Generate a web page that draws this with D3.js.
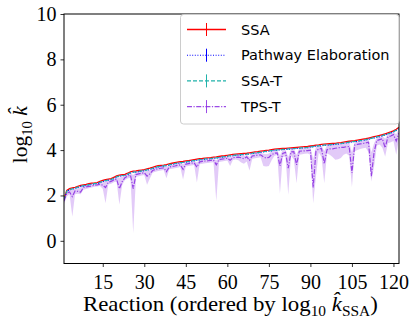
<!DOCTYPE html>
<html><head><meta charset="utf-8">
<script src="https://cdn.jsdelivr.net/npm/d3@7"></script>
<style>body{margin:0;background:#fff}svg{display:block}</style>
</head><body>
<script>
const ssa = [1.85,2.22,2.30,2.33,2.36,2.40,2.44,2.47,2.49,2.52,
2.54,2.55,2.57,2.62,2.66,2.70,2.72,2.74,2.80,2.86,
2.90,2.92,2.93,2.98,3.04,3.07,3.08,3.10,3.12,3.14,
3.17,3.20,3.24,3.28,3.31,3.33,3.34,3.36,3.39,3.42,
3.45,3.47,3.49,3.50,3.52,3.54,3.56,3.58,3.60,3.62,
3.63,3.65,3.66,3.67,3.69,3.70,3.72,3.74,3.75,3.77,
3.79,3.81,3.82,3.83,3.84,3.85,3.86,3.88,3.90,3.92,
3.93,3.95,3.97,3.99,4.00,4.02,4.04,4.05,4.06,4.07,
4.08,4.09,4.10,4.11,4.12,4.13,4.14,4.15,4.16,4.18,
4.20,4.22,4.23,4.25,4.26,4.27,4.28,4.29,4.30,4.32,
4.33,4.35,4.37,4.39,4.41,4.42,4.44,4.46,4.48,4.50,
4.53,4.56,4.59,4.62,4.65,4.68,4.72,4.76,4.80,4.85,
4.92,5.00];
const pathway = [1.80,2.18,2.24,2.28,2.31,2.35,2.40,2.41,2.44,2.47,
2.49,2.51,2.52,2.56,2.61,2.64,2.67,2.70,2.74,2.80,
2.85,2.86,2.89,2.92,2.98,3.02,3.03,3.05,3.06,3.09,
3.11,3.15,3.18,3.22,3.26,3.28,3.29,3.31,3.33,3.37,
3.39,3.42,3.43,3.45,3.47,3.48,3.51,3.52,3.55,3.57,
3.58,3.59,3.61,3.62,3.63,3.65,3.66,3.69,3.70,3.71,
3.74,3.75,3.77,3.78,3.78,3.80,3.81,3.82,3.85,3.86,
3.88,3.89,3.92,3.93,3.95,3.96,3.99,3.99,4.01,4.02,
4.03,4.03,4.05,4.06,4.07,4.07,4.09,4.10,4.10,4.13,
4.14,4.17,4.18,4.19,4.21,4.22,4.22,4.24,4.25,4.26,
4.28,4.29,4.32,4.33,4.36,4.37,4.38,4.41,4.42,4.45,
4.47,4.51,4.53,4.57,4.59,4.63,4.66,4.71,4.74,4.80,
4.86,4.95];
const ssaT = [1.82,2.19,2.26,2.29,2.32,2.37,2.40,2.43,2.45,2.48,
2.50,2.52,2.53,2.58,2.62,2.66,2.68,2.70,2.76,2.82,
2.86,2.88,2.89,2.94,3.00,3.03,3.04,3.06,3.08,3.10,
3.13,3.16,3.20,3.24,3.27,3.29,3.30,3.32,3.35,3.38,
3.41,3.43,3.45,3.46,3.48,3.50,3.52,3.54,3.56,3.58,
3.59,3.61,3.62,3.63,3.65,3.66,3.68,3.70,3.71,3.73,
3.75,3.77,3.78,3.79,3.80,3.81,3.82,3.84,3.86,3.88,
3.89,3.91,3.93,3.95,3.96,3.98,4.00,4.01,4.02,4.03,
4.04,4.05,4.06,4.07,4.08,4.09,4.10,4.11,4.12,4.14,
4.16,4.18,4.19,4.21,4.22,4.23,4.24,4.25,4.26,4.28,
4.29,4.31,4.33,4.35,4.37,4.38,4.40,4.42,4.44,4.46,
4.49,4.52,4.55,4.58,4.61,4.64,4.68,4.72,4.76,4.81,
4.88,4.96];
const tpsT = [1.75,2.10,2.15,1.95,2.20,2.18,2.15,2.35,2.38,2.40,
2.42,2.45,2.47,2.50,2.45,2.35,2.58,2.62,2.68,2.72,
2.30,2.60,2.78,2.85,2.90,2.30,2.92,2.95,2.98,3.00,
2.85,2.95,3.10,3.15,3.18,3.20,3.22,3.05,3.25,3.28,
3.30,3.33,3.35,3.15,3.38,3.40,3.42,3.44,3.25,3.48,
3.50,3.52,3.53,3.55,3.56,3.35,3.58,3.60,3.62,3.64,
3.55,3.66,3.68,3.69,3.66,3.62,3.70,3.55,3.74,3.76,
3.78,3.79,3.70,3.65,3.68,3.80,3.86,3.88,3.30,3.85,
3.90,3.20,3.92,3.93,3.35,3.95,3.96,3.97,3.98,4.00,
2.35,3.95,4.05,4.07,3.40,4.02,4.05,4.05,4.08,4.10,
4.12,4.12,4.15,4.16,3.00,4.22,4.25,4.27,4.29,4.32,
4.35,2.85,3.90,4.42,4.46,4.50,4.10,4.58,4.62,4.68,
4.40,4.75];
const tpsTLow = [1.62,1.95,2.05,1.07,2.05,2.08,2.05,2.25,2.28,2.32,
2.35,2.38,2.40,2.42,2.30,1.66,2.48,2.52,2.58,2.62,
1.60,2.45,2.68,2.75,2.78,0.34,2.82,2.85,2.88,2.90,
2.47,2.75,3.00,3.05,3.08,3.10,3.12,2.76,3.15,3.18,
3.20,3.22,3.25,2.70,3.28,3.30,3.32,3.34,2.57,3.38,
3.40,3.42,3.43,3.45,3.46,1.74,3.48,3.50,3.52,3.54,
3.30,3.56,3.58,3.55,3.45,3.40,3.50,3.10,3.62,3.64,
3.66,3.68,3.30,3.28,3.30,3.55,3.75,3.78,2.07,3.70,
3.72,2.03,3.75,3.60,2.54,3.80,3.82,3.84,3.85,3.80,
1.66,2.84,3.90,3.70,2.54,3.85,3.80,3.70,3.57,3.60,
3.65,3.80,3.85,3.75,2.37,3.95,4.00,4.05,4.08,4.10,
3.90,2.62,3.28,4.20,4.25,4.10,3.72,4.30,4.35,4.40,
3.79,4.50];
const tpsTHigh = [1.80,2.16,2.24,2.25,2.30,2.33,2.36,2.42,2.44,2.46,
2.48,2.50,2.52,2.56,2.58,2.62,2.66,2.69,2.74,2.79,
2.78,2.84,2.88,2.92,2.97,2.90,3.02,3.04,3.06,3.08,
3.08,3.12,3.18,3.22,3.25,3.27,3.28,3.26,3.33,3.36,
3.39,3.41,3.43,3.38,3.46,3.48,3.50,3.52,3.45,3.56,
3.57,3.59,3.60,3.61,3.63,3.55,3.66,3.68,3.69,3.71,
3.68,3.75,3.76,3.77,3.76,3.74,3.79,3.70,3.84,3.86,
3.87,3.89,3.84,3.82,3.85,3.95,3.98,3.99,3.75,4.00,
4.02,3.70,4.04,4.05,3.80,4.07,4.08,4.09,4.10,4.12,
3.60,4.14,4.17,4.19,3.95,4.21,4.22,4.23,4.24,4.26,
4.27,4.29,4.31,4.33,3.90,4.36,4.38,4.40,4.42,4.44,
4.47,3.90,4.30,4.56,4.59,4.62,4.50,4.70,4.74,4.79,
4.70,4.92];
const xTicks = [15,30,45,60,75,90,105,120];
const yTicks = [0,2,4,6,8,10];
const legendLabels = ["SSA","Pathway Elaboration","SSA-T","TPS-T"];

const W=416,H=330;
const L=64,R=399,T=14,B=263.5;
const svg=d3.select("body").append("svg").attr("width",W).attr("height",H);
const x=d3.scaleLinear().domain([1,ssa.length]).range([L,R]);
const y=d3.scaleLinear().domain([-1,10]).range([B,T]);
const idx=d3.range(ssa.length);

svg.append("clipPath").attr("id","clip").append("rect").attr("x",L).attr("y",T).attr("width",R-L).attr("height",B-T);
const plot=svg.append("g").attr("clip-path","url(#clip)");

const purple="#8a2be2";
plot.append("path").datum(idx)
  .attr("d",d3.area().x(i=>x(i+1)).y0(i=>y(tpsTLow[i])).y1(i=>y(tpsTHigh[i])))
  .attr("fill",purple).attr("fill-opacity",0.25).attr("stroke","none");

const series=[
  {v:ssa,c:"#ff0000",dash:null,w:1.3,op:1},
  {v:pathway,c:"#0000ff",dash:"1,1.6",w:1.1,op:1},
  {v:ssaT,c:"#20b2aa",dash:"4,2",w:1.2,op:1},
  {v:tpsT,c:purple,dash:"5,1.5,1.2,1.5",w:1.2,op:0.85}
];
series.forEach(s=>{
  const p=plot.append("path").datum(idx)
    .attr("d",d3.line().x(i=>x(i+1)).y(i=>y(s.v[i])))
    .attr("fill","none").attr("stroke",s.c).attr("stroke-width",s.w).attr("stroke-opacity",s.op);
  if(s.dash) p.attr("stroke-dasharray",s.dash);
});

// axes
const serif="'Liberation Serif','Times New Roman',serif";
const xa=svg.append("g").attr("transform",`translate(0,${B})`)
  .call(d3.axisBottom(x).tickValues(xTicks).tickSize(3.5).tickPadding(6).tickFormat(d3.format("d")));
const ya=svg.append("g").attr("transform",`translate(${L},0)`)
  .call(d3.axisLeft(y).tickValues(yTicks).tickSize(3.5).tickPadding(4).tickFormat(d3.format("d")));
[xa,ya].forEach(a=>{
  a.select(".domain").remove();
  a.selectAll(".tick line").attr("stroke","#000").attr("stroke-width",0.8);
  a.selectAll(".tick text").attr("font-family",serif).attr("font-size",20).attr("fill","#000");
});
xa.selectAll(".tick text").attr("dy","0.8em");
svg.append("rect").attr("x",L).attr("y",T).attr("width",R-L).attr("height",B-T)
  .attr("fill","none").attr("stroke","#000").attr("stroke-width",1);

// x label
const xl=svg.append("text").attr("x",83).attr("y",311.5).attr("text-anchor","start")
  .attr("font-family",serif).attr("font-size",21.5).attr("fill","#000");
xl.append("tspan").text("Reaction (ordered by log");
xl.append("tspan").attr("font-size",14.5).attr("dy",5).text("10");
xl.append("tspan").attr("dy",-5).text(" ");
xl.append("tspan").attr("font-style","italic").text("k\u0302");
xl.append("tspan").attr("font-size",14.5).attr("dy",5).text("SSA");
xl.append("tspan").attr("dy",-5).text(")");
// fit label span to the reference extent (83 → 378)
const bb=xl.node().getBBox();
if(bb.width>0){ const sc=295/bb.width; if(Math.abs(sc-1)>0.02){ xl.attr("transform",`translate(83,0) scale(${sc},1) translate(-83,0)`);} }

// y label
const yl=svg.append("text").attr("transform",`translate(27,${(T+B)/2-4}) rotate(-90)`).attr("text-anchor","middle")
  .attr("font-family",serif).attr("font-size",21.5).attr("fill","#000");
yl.append("tspan").text("log");
yl.append("tspan").attr("font-size",14.5).attr("dy",5).text("10");
yl.append("tspan").attr("dy",-5).text(" ");
yl.append("tspan").attr("font-style","italic").text("k\u0302");

// legend
const lg=svg.append("g");
lg.append("rect").attr("x",180.5).attr("y",14.5).attr("width",218.5).attr("height",109.5).attr("rx",3)
  .attr("fill","#fff").attr("fill-opacity",0.85).attr("stroke","#cccccc").attr("stroke-width",1);
series.forEach((s,k)=>{
  const yy=29.5+k*25.7;
  const ln=lg.append("line").attr("x1",187).attr("x2",226).attr("y1",yy).attr("y2",yy)
    .attr("stroke",s.c).attr("stroke-width",s.w).attr("stroke-opacity",s.op);
  if(s.dash) ln.attr("stroke-dasharray",s.dash);
  lg.append("line").attr("x1",206.5).attr("x2",206.5).attr("y1",yy-6.5).attr("y2",yy+6.5)
    .attr("stroke",s.c).attr("stroke-width",1).attr("stroke-opacity",s.op);
  lg.append("text").attr("x",241).attr("y",yy).attr("dy","0.36em")
    .attr("font-family","'DejaVu Sans',sans-serif").attr("font-size",14.5).attr("fill","#000")
    .text(legendLabels[k]);
});
</script>
</body></html>
